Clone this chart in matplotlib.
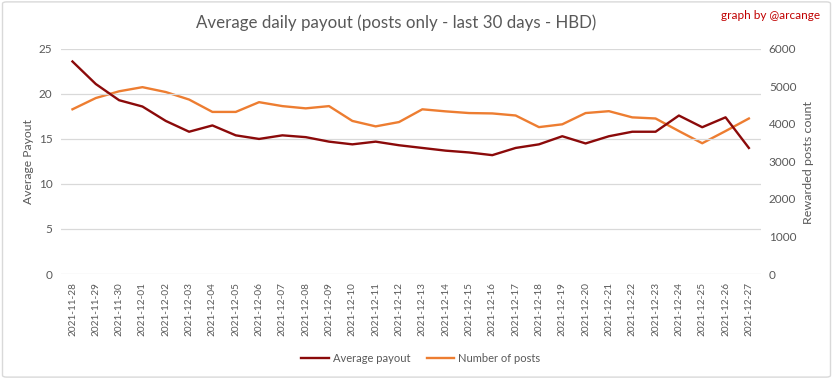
import matplotlib.pyplot as plt
from matplotlib.patches import FancyBboxPatch

dates = ["2021-11-28", "2021-11-29", "2021-11-30", "2021-12-01", "2021-12-02",
         "2021-12-03", "2021-12-04", "2021-12-05", "2021-12-06", "2021-12-07",
         "2021-12-08", "2021-12-09", "2021-12-10", "2021-12-11", "2021-12-12",
         "2021-12-13", "2021-12-14", "2021-12-15", "2021-12-16", "2021-12-17",
         "2021-12-18", "2021-12-19", "2021-12-20", "2021-12-21", "2021-12-22",
         "2021-12-23", "2021-12-24", "2021-12-25", "2021-12-26", "2021-12-27"]
avg_payout = [23.6, 21.1, 19.3, 18.6, 17.0, 15.8, 16.5, 15.4, 15.0, 15.4,
              15.2, 14.7, 14.4, 14.7, 14.3, 14.0, 13.7, 13.5, 13.2, 14.0,
              14.4, 15.3, 14.5, 15.3, 15.8, 15.8, 17.6, 16.3, 17.4, 14.0]
num_posts = [4390, 4690, 4870, 4980, 4850, 4650, 4320, 4320, 4580, 4475,
             4415, 4475, 4080, 3935, 4050, 4390, 4335, 4290, 4280, 4225,
             3915, 3990, 4290, 4340, 4175, 4145, 3810, 3485, 3810, 4145]

plt.rcParams['font.family'] = ['Lato', 'DejaVu Sans']
gray = '#595959'
red = '#8B0A0A'
orange = '#ED7D31'
W, H = 833, 379

fig = plt.figure(figsize=(W / 100, H / 100), dpi=100)
# chart frame
fig.patches.append(FancyBboxPatch((0.003, 0.005), 0.994, 0.99, boxstyle="round,pad=0,rounding_size=0.005",
                                  transform=fig.transFigure, facecolor='none', edgecolor='#D9D9D9',
                                  linewidth=1, zorder=-1))
ax = fig.add_axes([0.073, 0.277, 0.84, 0.594])
ax2 = ax.twinx()

x = range(len(dates))
ax.plot(x, avg_payout, color=red, linewidth=1.7, label='Average payout', zorder=3)
ax2.plot(x, num_posts, color=orange, linewidth=1.7, label='Number of posts')
ax.set_zorder(ax2.get_zorder() + 1)
ax.patch.set_visible(False)

ax.set_xlim(-0.5, len(dates) - 0.5)
ax.set_ylim(0, 25)
ax2.set_ylim(0, 6000)
ax.set_yticks(range(0, 26, 5))
ax2.set_yticks(range(0, 6001, 1000))
ax.set_xticks(list(x))
ax.set_xticklabels(dates, rotation=90, fontsize=8, color=gray)
ax.tick_params(axis='both', length=0, pad=6, labelcolor=gray)
ax.tick_params(axis='y', labelsize=8.5)
ax2.tick_params(axis='y', length=0, pad=6, labelsize=8.5, labelcolor=gray)
ax.grid(axis='y', color='#D9D9D9', linewidth=0.9)
for a in (ax, ax2):
    for s in a.spines.values():
        s.set_visible(False)

# axis titles placed as figure text (centres)
ylab = fig.text(28 / W, 1 - 162 / H, 'Average Payout', rotation=90,
                ha='center', va='center', fontsize=10, color=gray)
ylab2 = fig.text(809 / W, 1 - 162 / H, 'Rewarded posts count', rotation=90,
                 ha='center', va='center', fontsize=10, color=gray)

fig.text(0.475, 0.94, 'Average daily payout (posts only - last 30 days - HBD)',
         ha='center', va='center', fontsize=12.2, color=gray)
fig.text(0.985, 0.96, 'graph by @arcange', ha='right', va='center', fontsize=8.5, color='#C00000')

h1, l1 = ax.get_legend_handles_labels()
h2, l2 = ax2.get_legend_handles_labels()
fig.legend(h1 + h2, l1 + l2, loc='center', bbox_to_anchor=(0.505, 0.055), ncol=2, frameon=False,
           fontsize=8, labelcolor=gray, handlelength=2.5, handletextpad=0.3, columnspacing=1.5)


def fit(texts, target_px):
    # scale font so the rotated text length matches the reference
    fig.canvas.draw()
    bb = texts[0].get_window_extent()
    size = texts[0].get_fontsize() * target_px / bb.height
    for t in texts:
        t.set_fontsize(size)


fit([ylab], 85)
fit([ylab2], 123)
fit(ax.get_xticklabels(), 54)

fig.savefig('out.png', dpi=100)
